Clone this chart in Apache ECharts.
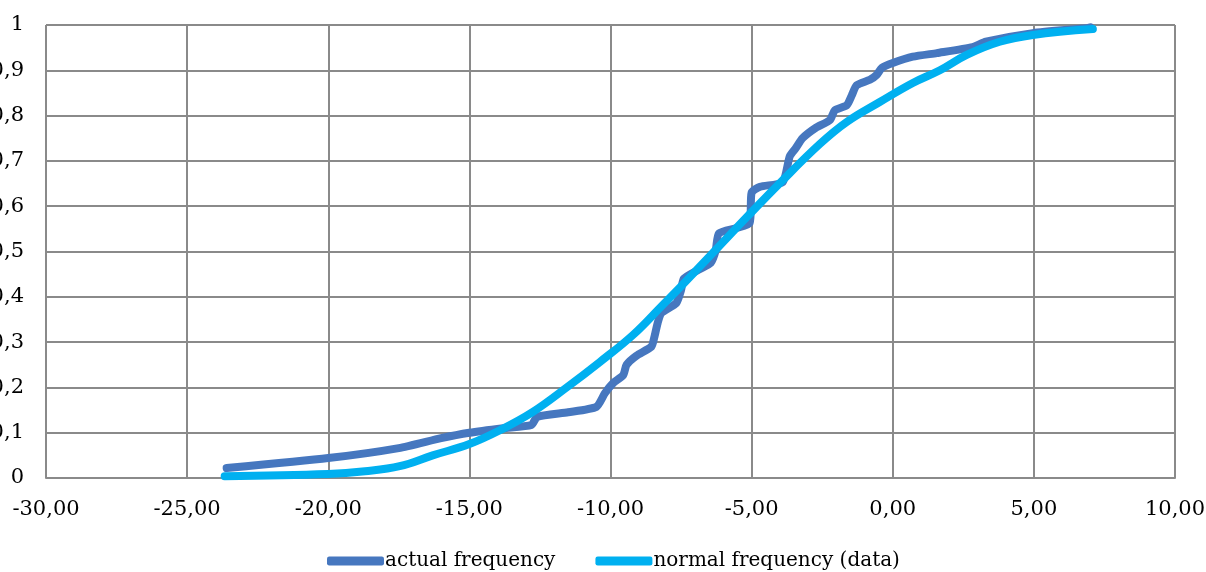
<!DOCTYPE html>
<html>
<head>
<meta charset="utf-8">
<script src="https://cdn.jsdelivr.net/npm/echarts@6/dist/echarts.min.js"></script>
<style>
  html, body { margin: 0; padding: 0; background: #fff; }
  #chart { width: 1206px; height: 572px; }
</style>
</head>
<body>
<div id="chart"></div>
<script>
const actualX = [-23.6, -20.0, -17.5, -16.0, -15.0, -13.8, -12.8, -12.6, -11.5, -10.5, -10.2, -9.9, -9.55, -9.43, -9.08, -8.55, -8.45, -8.33, -8.2, -7.67, -7.5, -7.4, -6.87, -6.45, -6.27, -6.16, -5.53, -5.07, -5.0, -4.7, -3.9, -3.65, -3.44, -3.2, -2.73, -2.23, -2.05, -1.63, -1.45, -1.28, -0.81, -0.57, -0.39, 0.0, 0.71, 1.56, 2.83, 3.3, 4.96, 6.87, 7.0];
const actualY = [0.022, 0.044, 0.066, 0.088, 0.100, 0.110, 0.117, 0.135, 0.145, 0.157, 0.187, 0.21, 0.227, 0.25, 0.27, 0.29, 0.31, 0.342, 0.364, 0.386, 0.415, 0.44, 0.46, 0.475, 0.503, 0.54, 0.552, 0.563, 0.63, 0.643, 0.653, 0.71, 0.728, 0.75, 0.773, 0.79, 0.812, 0.823, 0.845, 0.867, 0.879, 0.89, 0.905, 0.916, 0.93, 0.938, 0.951, 0.963, 0.982, 0.993, 0.995];

const normalX = [-23.67, -20.0, -18.7, -17.47, -16.3, -15.0, -13.9, -12.75, -11.55, -10.38, -9.2, -8.15, -7.55, -6.37, -5.17, -4.0, -2.59, -1.63, -0.46, 0.71, 1.67, 2.62, 3.79, 4.96, 7.09];
const normalY = [0.004, 0.009, 0.015, 0.026, 0.05, 0.075, 0.106, 0.146, 0.2, 0.256, 0.316, 0.382, 0.42, 0.497, 0.576, 0.651, 0.737, 0.786, 0.83, 0.872, 0.9, 0.934, 0.963, 0.978, 0.991];

const seriesNames = ['actual frequency', 'normal frequency (data)'];

const chart = echarts.init(document.getElementById('chart'));
const font = 'DejaVu Serif';
const gridColor = '#8a8a8a';

function pairs(xs, ys) {
  return xs.map((x, i) => [x, ys[i]]);
}

chart.setOption({
  backgroundColor: '#ffffff',
  animation: false,
  grid: { left: 46, right: 31, top: 25, bottom: 94, outerBoundsMode: 'none' },
  legend: {
    top: 546,
    left: 322,
    icon: 'roundRect',
    itemWidth: 57,
    itemHeight: 9,
    itemGap: 40,
    textStyle: { fontFamily: font, fontSize: 20, color: '#000', padding: [0, 0, 0, -4] },
    data: seriesNames,
  },
  xAxis: {
    type: 'value',
    min: -30,
    max: 10,
    interval: 5,
    axisLine: { lineStyle: { color: gridColor, width: 2 } },
    axisTick: { show: false },
    splitLine: { lineStyle: { color: gridColor, width: 2 } },
    axisLabel: {
      margin: 21,
      color: '#000',
      fontFamily: font,
      fontSize: 21,
      formatter: function (v) {
        return v.toFixed(2).replace('.', ',');
      },
    },
  },
  yAxis: {
    type: 'value',
    min: 0,
    max: 1,
    interval: 0.1,
    axisLine: { onZero: true, lineStyle: { color: gridColor, width: 2 } },
    axisTick: { show: false },
    splitLine: { lineStyle: { color: gridColor, width: 2 } },
    axisLabel: {
      margin: 22,
      color: '#000',
      fontFamily: font,
      fontSize: 21,
      formatter: function (v) {
        return String(Math.round(v * 10) / 10).replace('.', ',');
      },
    },
  },
  series: [
    {
      name: seriesNames[0],
      type: 'line',
      smooth: 0.2,
      showSymbol: false,
      itemStyle: { color: '#4677bf' },
      lineStyle: { color: '#4677bf', width: 8, cap: 'round', join: 'round' },
      data: pairs(actualX, actualY),
    },
    {
      name: seriesNames[1],
      type: 'line',
      smooth: 0.4,
      showSymbol: false,
      itemStyle: { color: '#00b0f0' },
      lineStyle: { color: '#00b0f0', width: 8, cap: 'round', join: 'round' },
      data: pairs(normalX, normalY),
    },
  ],
});
</script>
</body>
</html>
